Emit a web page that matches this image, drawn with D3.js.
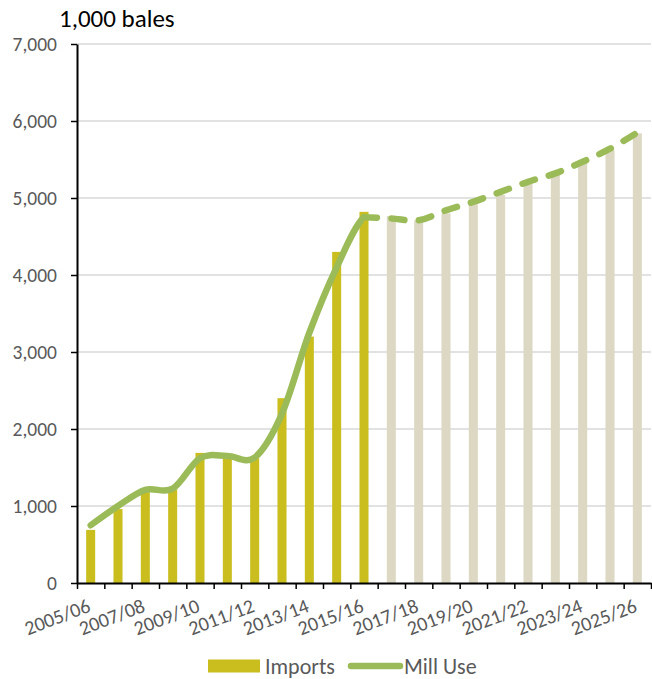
<!DOCTYPE html>
<html>
<head>
<meta charset="utf-8">
<script src="https://cdn.jsdelivr.net/npm/d3@7"></script>
<style>
  body { margin: 0; background: #fff; }
  svg text { font-family: Calibri, Carlito, Lato, sans-serif; }
</style>
</head>
<body>
<div id="chart"></div>
<script>
var width = 652;
var height = 679;
var margin = { top: 44, right: 1, bottom: 96, left: 77 };

// data
var years = ["2005/06", "2006/07", "2007/08", "2008/09", "2009/10", "2010/11", "2011/12",
  "2012/13", "2013/14", "2014/15", "2015/16", "2016/17", "2017/18", "2018/19", "2019/20",
  "2020/21", "2021/22", "2022/23", "2023/24", "2024/25", "2025/26"];
var imports = [690, 960, 1180, 1215, 1690, 1660, 1620, 2400, 3200, 4300, 4820,
  4765, 4710, 4800, 4920, 5040, 5210, 5320, 5470, 5620, 5840];
var millUse = [750, 1000, 1210, 1225, 1620, 1650, 1630, 2200, 3250, 4100, 4750,
  4735, 4710, 4840, 4950, 5080, 5210, 5320, 5470, 5640, 5850];
var lastActual = "2015/16"; // after this: projections
var yTicks = [0, 1000, 2000, 3000, 4000, 5000, 6000, 7000];

var data = years.map((d, i) => ({ year: d, imports: imports[i], mill: millUse[i] }));

var svg = d3.select("#chart").append("svg")
  .attr("width", width)
  .attr("height", height);

var x = d3.scaleBand()
  .domain(years)
  .range([margin.left, width - margin.right]);

var xi = d3.scaleLinear()
  .domain([0, years.length])
  .range([margin.left, width - margin.right]);

var y = d3.scaleLinear()
  .domain([0, 7000])
  .range([height - margin.bottom, margin.top]);

var splitIdx = years.indexOf(lastActual);

// gridlines
svg.append("g")
  .selectAll("line")
  .data(yTicks.slice(1))
  .join("line")
  .attr("x1", margin.left)
  .attr("x2", width - margin.right)
  .attr("y1", d => y(d))
  .attr("y2", d => y(d))
  .attr("stroke", "#d9d9d9")
  .attr("stroke-width", 1.5);

// bars
var bw = x.bandwidth() * 0.33;
svg.append("g")
  .selectAll("rect")
  .data(data)
  .join("rect")
  .attr("x", d => x(d.year) + x.bandwidth() / 2 - bw / 2)
  .attr("y", d => y(d.imports))
  .attr("width", bw)
  .attr("height", d => y(0) - y(d.imports))
  .attr("fill", (d, i) => i <= splitIdx ? "#c9be1e" : "#ddd8c3");

// mill use line, solid up to last actual year then dashed
var splitX = x(lastActual) + x.bandwidth() / 2;
svg.append("defs").append("clipPath").attr("id", "clipSolid")
  .append("rect").attr("x", 0).attr("y", 0).attr("width", splitX).attr("height", height);

var line = d3.line()
  .x(d => x(d.year) + x.bandwidth() / 2)
  .y(d => y(d.mill))
  .curve(d3.curveCardinal.tension(0));

svg.append("path")
  .datum(data)
  .attr("clip-path", "url(#clipSolid)")
  .attr("d", line)
  .attr("fill", "none")
  .attr("stroke", "#9bbb59")
  .attr("stroke-width", 6.5)
  .attr("stroke-linecap", "round")
  .attr("stroke-linejoin", "round");

svg.append("path")
  .datum(data.slice(splitIdx))
  .attr("d", line)
  .attr("fill", "none")
  .attr("stroke", "#9bbb59")
  .attr("stroke-width", 6.5)
  .attr("stroke-linecap", "round")
  .attr("stroke-dasharray", "13 14.5");

// y axis
svg.append("g")
  .attr("transform", `translate(${margin.left},0)`)
  .call(d3.axisLeft(y).tickValues(yTicks).tickSize(6).tickSizeOuter(0).tickFormat(d3.format(",")))
  .call(g => g.select(".domain").attr("stroke", "#000").attr("stroke-width", 2))
  .call(g => g.selectAll(".tick line").attr("stroke", "#000").attr("stroke-width", 1.5))
  .call(g => g.selectAll(".tick text")
    .attr("x", -20)
    .attr("fill", "#595959")
    .attr("font-size", 19.5));

// x axis: tick marks at category boundaries
svg.append("g")
  .attr("transform", `translate(0,${y(0)})`)
  .call(d3.axisBottom(xi).tickValues(d3.range(years.length + 1)).tickSize(6).tickSizeOuter(0).tickFormat(""))
  .call(g => g.select(".domain").attr("stroke", "#000").attr("stroke-width", 2))
  .call(g => g.selectAll(".tick line").attr("stroke", "#000").attr("stroke-width", 1.5));

// x labels, every other year, rotated
svg.append("g")
  .selectAll("text")
  .data(years.filter((d, i) => i % 2 === 0))
  .join("text")
  .attr("transform", d => `translate(${x(d) + x.bandwidth() / 2 + 1},${y(0) + 28}) rotate(-21)`)
  .attr("text-anchor", "end")
  .attr("fill", "#595959")
  .attr("font-size", 20)
  .text(d => d);

// title
svg.append("text")
  .attr("x", 59)
  .attr("y", 27)
  .attr("font-size", 25)
  .attr("fill", "#000")
  .text("1,000 bales");

// legend
var legend = svg.append("g").attr("transform", "translate(0,666)");
legend.append("rect")
  .attr("x", 208).attr("y", -6.5).attr("width", 52).attr("height", 13)
  .attr("fill", "#c9be1e");
legend.append("text")
  .attr("x", 265).attr("y", 7.5)
  .attr("font-size", 22).attr("fill", "#595959")
  .text("Imports");
legend.append("line")
  .attr("x1", 351).attr("x2", 400).attr("y1", 0).attr("y2", 0)
  .attr("stroke", "#9bbb59").attr("stroke-width", 6.5).attr("stroke-linecap", "round");
legend.append("text")
  .attr("x", 404).attr("y", 7.5)
  .attr("font-size", 22).attr("fill", "#595959")
  .text("Mill Use");
</script>
</body>
</html>
